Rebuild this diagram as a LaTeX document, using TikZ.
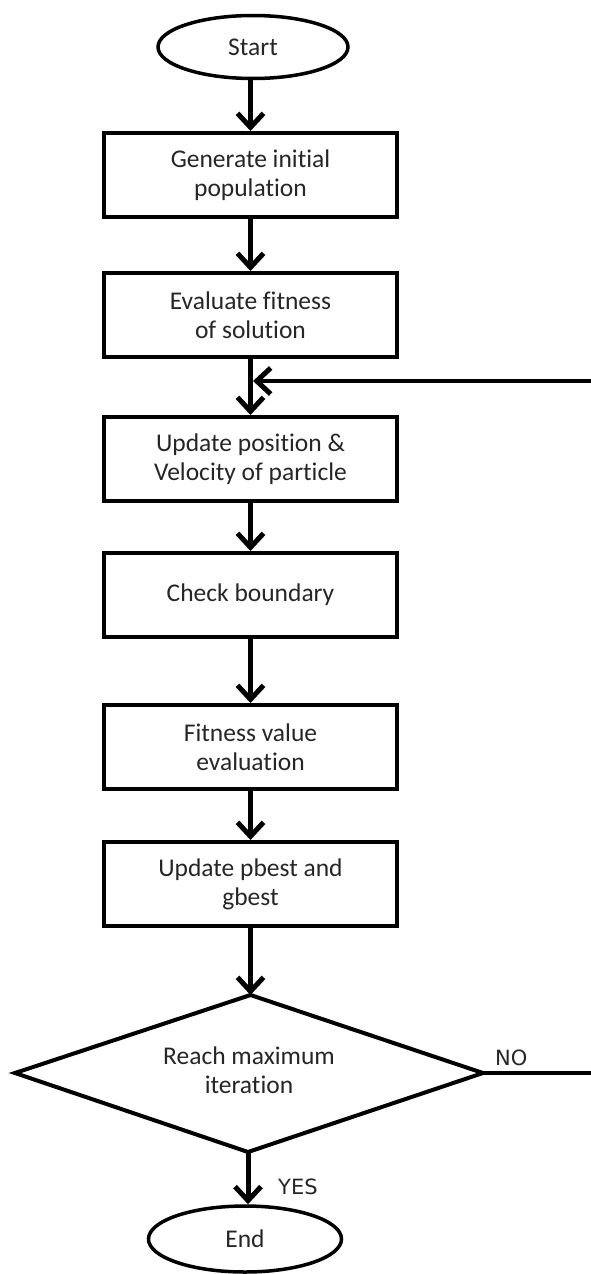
\documentclass[tikz,border=0pt]{standalone}
\usepackage{fontspec}
\setmainfont{Carlito}[Ligatures=NoCommon]
\newfontfamily\lblfont{DejaVu Sans}
\usetikzlibrary{shapes.geometric,arrows.meta}
\begin{document}
\begin{tikzpicture}[x=1pt,y=-1pt,
  every node/.style={font=\fontsize{25.5}{29}\selectfont, align=center, text=black!85},
  procbox/.style={draw=black, line width=4pt, minimum width=293pt, minimum height=84pt, inner sep=0pt},
  term/.style={draw=black, ellipse, line width=3.5pt, minimum width=190pt, minimum height=63pt, inner sep=0pt},
  flow/.style={line width=5pt, -{Straight Barb[length=14pt,width=26pt,line width=5pt]}},
  lbl/.style={font=\lblfont\fontsize{21}{25}\selectfont, inner sep=0pt}
]
\useasboundingbox (0,0) rectangle (591,1274);
\node[term] (start) at (253,47) {Start};
\node[procbox] (b1) at (250.5,175) {Generate initial\\population};
\node[procbox] (b2) at (250.5,315) {Evaluate fitness\\of solution};
\node[procbox] (b3) at (250.5,459) {Update position \&\\Velocity of particle};
\node[procbox] (b4) at (250.5,595) {Check boundary};
\node[procbox] (b5) at (250.5,747) {Fitness value\\evaluation};
\node[procbox] (b6) at (250.5,884) {Update pbest and\\gbest};
% decision diamond
\coordinate (dtop) at (250.5,995);
\coordinate (dright) at (483,1073);
\coordinate (dbot) at (248,1152);
\coordinate (dleft) at (15,1073);
\draw[line width=4pt, line join=miter] (dtop) -- (dright) -- (dbot) -- (dleft) -- cycle;
\node (dia) at (249,1070) {Reach maximum\\iteration};
\node[term, minimum width=193pt, minimum height=66pt] (end) at (245,1239) {End};
\coordinate (j) at (253,381);
\coordinate (jm) at (250.5,381);
\draw[flow] (start.south -| b1.north) -- (b1);
\draw[flow] (b1) -- (b2);
\draw[line width=5pt] (b2.south) -- (jm);
\draw[flow] (jm) -- (b3.north);
\draw[flow] (b3) -- (b4);
\draw[flow] (b4) -- (b5);
\draw[flow] (b5) -- (b6);
\draw[flow] (b6.south) -- (dtop);
\draw[flow] (dbot) -- (dbot |- end.north);
\node[lbl, anchor=west] (yes) at (278,1187) {YES};
\draw[flow, line width=3.5pt] (dright) -- ++(125,0) |- (j);
\node[lbl, anchor=west] (no) at (495,1058) {NO};
\end{tikzpicture}
\end{document}
